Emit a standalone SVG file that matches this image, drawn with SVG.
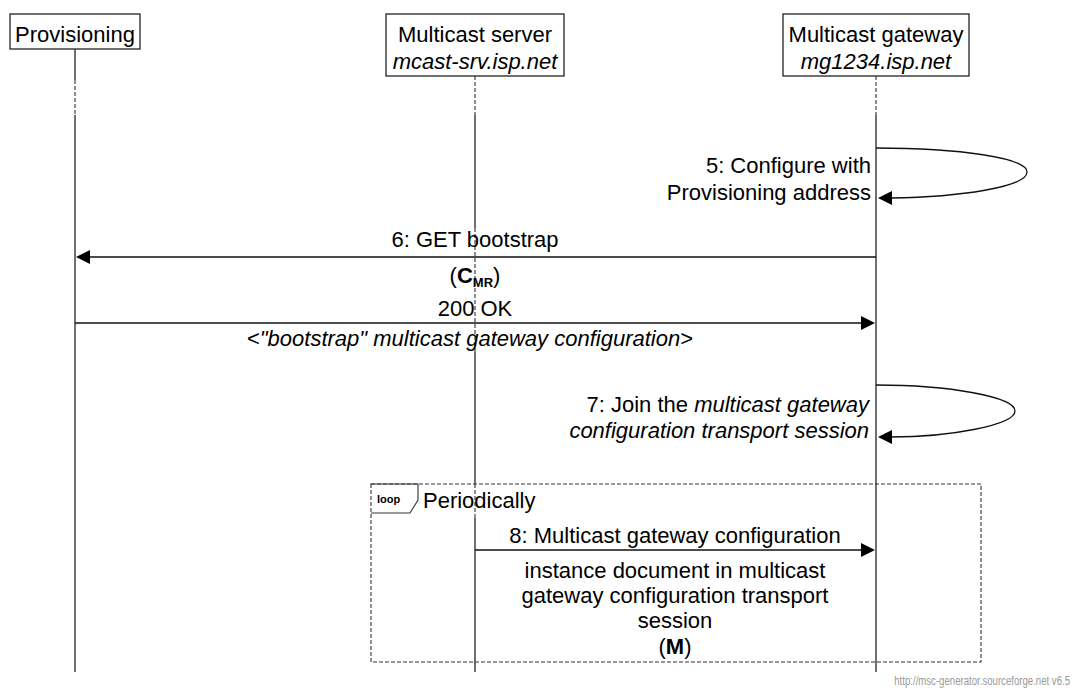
<svg xmlns="http://www.w3.org/2000/svg" width="1074" height="693" viewBox="0 0 1074 693">
<style>
text{font-family:"Liberation Sans",Arial,sans-serif;font-size:22px;fill:#000}
.box{fill:#fff;stroke:#222;stroke-width:1.3}
.life{stroke:#333;stroke-width:1.4;fill:none}
.dash{stroke:#444;stroke-width:1.2;stroke-dasharray:4 2;fill:none}
.msg{stroke:#111;stroke-width:1.3;fill:none}
.head{fill:#000}
.it{font-style:italic}
.b{font-weight:bold}
.mid{text-anchor:middle}
.end{text-anchor:end}
</style>
<rect width="1074" height="693" fill="#fff"/>
<g id="lifelines">
<path class="life" d="M75,49V80M75,115V672"/>
<path class="dash" d="M75,80V115"/>
<path class="dash" d="M475,76V115M475,228V352M475,484V518"/>
<path class="life" d="M475,115V228M475,352V484M475,518V672"/>
<path class="dash" d="M876,76V115"/>
<path class="life" d="M876,115V672"/>
</g>
<g id="provisioning">
<rect class="box" x="10" y="14" width="130" height="35"/>
<text class="mid" x="75" y="42">Provisioning</text>
</g>
<g id="server">
<rect class="box" x="386" y="14" width="178" height="62"/>
<text class="mid" x="475" y="42">Multicast server</text>
<text class="mid it" x="475" y="69">mcast-srv.isp.net</text>
</g>
<g id="gateway">
<rect class="box" x="783" y="14" width="186" height="62"/>
<text class="mid" x="876" y="42">Multicast gateway</text>
<text class="mid it" x="876" y="69">mg1234.isp.net</text>
</g>
<g id="loop">
<rect x="371" y="484" width="610" height="178" fill="none" stroke="#333" stroke-width="1.1" stroke-dasharray="4 2"/>
<path d="M371,484H418V500L410,513H371" fill="none" stroke="#333" stroke-width="1.1"/>
<text class="b" x="377" y="503" style="font-size:11px">loop</text>
<text x="423" y="508">Periodically</text>
</g>
<g id="connectors">
<path class="msg" d="M876,148C960,148 1027,158 1027,172C1027,187 960,197 891,198"/>
<polygon class="head" points="878,198 892,191 892,205"/>
<path class="msg" d="M876,257H89"/>
<polygon class="head" points="76,257 90,250 90,264"/>
<path class="msg" d="M75,323H862"/>
<polygon class="head" points="875,323 861,316 861,330"/>
<path class="msg" d="M876,385C950,385 1015,397 1015,411C1015,425 950,437 891,437"/>
<polygon class="head" points="878,437 892,430 892,444"/>
<path class="msg" d="M475,550H862"/>
<polygon class="head" points="875,550 861,543 861,557"/>
</g>
<g id="labels">
<text class="end" x="871" y="173">5: Configure with</text>
<text class="end" x="871" y="200">Provisioning address</text>
<text class="mid" x="475" y="247">6: GET bootstrap</text>
<text class="mid" x="475" y="283">(<tspan class="b">C</tspan><tspan class="b" style="font-size:13px" dy="4">MR</tspan><tspan dy="-4">)</tspan></text>
<text class="mid" x="475" y="316">200 OK</text>
<text class="mid" x="470" y="346">&lt;<tspan class="it">"bootstrap" multicast gateway configuration</tspan>&gt;</text>
<text class="end" x="869" y="412">7: Join the <tspan class="it">multicast gateway</tspan></text>
<text class="end it" x="869" y="438">configuration transport session</text>
<text class="mid" x="675" y="543">8: Multicast gateway configuration</text>
<text class="mid" x="675" y="578">instance document in multicast</text>
<text class="mid" x="675" y="603">gateway configuration transport</text>
<text class="mid" x="675" y="628">session</text>
<text class="mid" x="675" y="654">(<tspan class="b">M</tspan>)</text>
</g>
<g transform="translate(1070,685) scale(0.74,1)">
<text class="end" x="0" y="0" style="font-size:13px;fill:#999">http://msc-generator.sourceforge.net v6.5</text>
</g>
</svg>
